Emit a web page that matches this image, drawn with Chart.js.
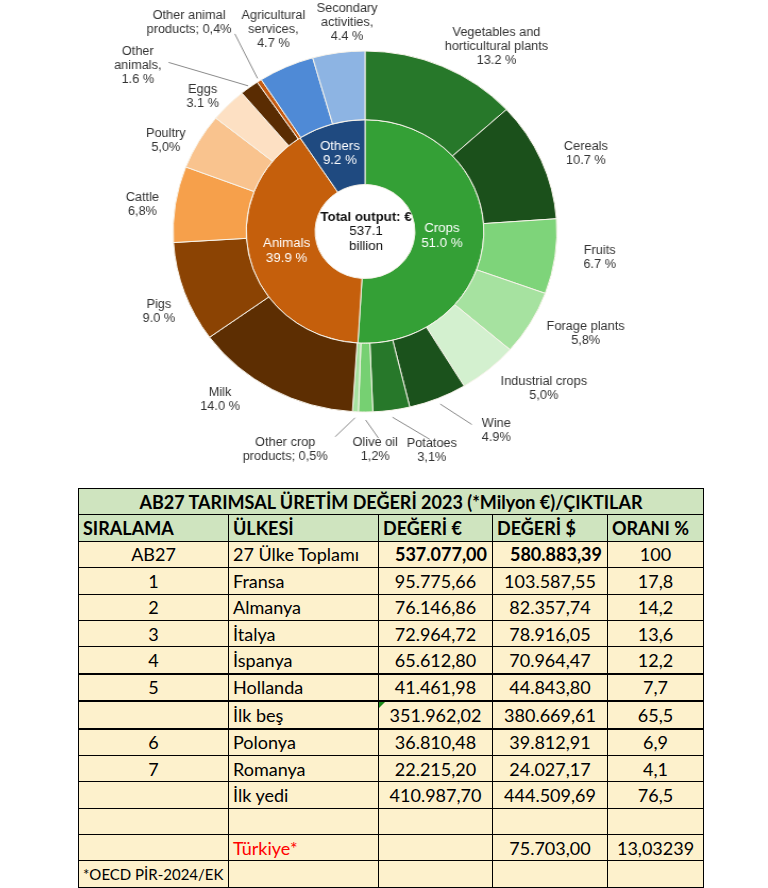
<!DOCTYPE html>
<html><head><meta charset="utf-8">
<script src="https://cdn.jsdelivr.net/npm/chart.js@4/dist/chart.umd.min.js"></script>
<style>
html,body{margin:0;padding:0;background:#fff;width:768px;height:888px;overflow:hidden;}
#wrap{position:absolute;left:0;top:0;width:768px;height:472px;transform:scaleX(1.063);transform-origin:365px 0;}
#tbl{position:absolute;left:78px;top:488px;border-collapse:collapse;table-layout:fixed;width:625px;font-family:Lato,"Open Sans",sans-serif;font-size:18px;color:#000;}
#tbl td{border:1px solid #000;padding:0 4px;height:25.4px;line-height:20px;white-space:nowrap;overflow:hidden;background:#fdf1cc;position:relative;}
#tbl tr.g td{background:#cfe4bf;font-weight:bold;}
#tbl td.c{text-align:center;}
#tbl td.l{text-align:left;}
#tbl td.b{font-weight:bold;text-align:right;padding-right:5px;}
#tbl tr.thick td{border-top:2px solid #000;}
#tbl td.red{color:#ff0000;}
#tbl td.foot{font-size:15px;}
.tri{position:absolute;left:0;top:0;width:0;height:0;border-top:6px solid #1a8a1a;border-right:6px solid transparent;}
</style></head>
<body>
<div id="wrap"><canvas id="c" width="768" height="472"></canvas></div>
<table id="tbl"><colgroup><col style="width:150px"><col style="width:150px"><col style="width:114px"><col style="width:115px"><col style="width:96px"></colgroup><tbody id="tb"></tbody></table>
<script>
// ---- Chart data ----
const groupLabels = ['Crops', 'Animals', 'Others'];
const groupValues = [51.0, 39.9, 9.2];
const groupTexts = ['Crops\n51.0 %', 'Animals\n39.9 %', 'Others\n9.2 %'];
const itemLabels = ['Vegetables and horticultural plants', 'Cereals', 'Fruits', 'Forage plants', 'Industrial crops', 'Wine', 'Potatoes', 'Olive oil', 'Other crop products', 'Milk', 'Pigs', 'Cattle', 'Poultry', 'Eggs', 'Other animals', 'Other animal products', 'Agricultural services', 'Secondary activities'];
const itemValues = [13.2, 10.7, 6.7, 5.8, 5.0, 4.9, 3.1, 1.2, 0.5, 14.0, 9.0, 6.8, 5.0, 3.1, 1.6, 0.4, 4.7, 4.4];
const itemTexts = ['Vegetables and\nhorticultural plants\n13.2 %', 'Cereals\n10.7 %', 'Fruits\n6.7 %', 'Forage plants\n5,8%', 'Industrial crops\n5,0%', 'Wine\n4.9%', 'Potatoes\n3,1%', 'Olive oil\n1,2%', 'Other crop\nproducts; 0,5%', 'Milk\n14.0 %', 'Pigs\n9.0 %', 'Cattle\n6,8%', 'Poultry\n5,0%', 'Eggs\n3.1 %', 'Other\nanimals,\n1.6 %', 'Other animal\nproducts; 0,4%', 'Agricultural\nservices,\n4.7 %', 'Secondary\nactivities,\n4.4 %'];
const centerTexts = ['Total output: €', '537.1', 'billion'];

// ---- Table data ----
const tableTitle = 'AB27 TARIMSAL ÜRETİM DEĞERİ 2023 (*Milyon €)/ÇIKTILAR';
const tableHeaders = ['SIRALAMA', 'ÜLKESİ', 'DEĞERİ €', 'DEĞERİ $', 'ORANI %'];
const rankCol = ['AB27', '1', '2', '3', '4', '5', '', '6', '7', '', '', ''];
const countryCol = ['27 Ülke Toplamı', 'Fransa', 'Almanya', 'İtalya', 'İspanya', 'Hollanda', 'İlk beş', 'Polonya', 'Romanya', 'İlk yedi', '', 'Türkiye*'];
const eurCol = ['537.077,00', '95.775,66', '76.146,86', '72.964,72', '65.612,80', '41.461,98', '351.962,02', '36.810,48', '22.215,20', '410.987,70', '', ''];
const usdCol = ['580.883,39', '103.587,55', '82.357,74', '78.916,05', '70.964,47', '44.843,80', '380.669,61', '39.812,91', '24.027,17', '444.509,69', '', '75.703,00'];
const shareCol = ['100', '17,8', '14,2', '13,6', '12,2', '7,7', '65,5', '6,9', '4,1', '76,5', '', '13,03239'];
const footNote = '*OECD PİR-2024/EK';

// ---- styles / layout (not data) ----
const groupColors = ['#34a036', '#c55f0c', '#1f4a80'];
const itemColors = ['#27782a', '#1b501b', '#7ed47a', '#a6e2a0', '#d3f0cf', '#1b521c', '#27782a', '#76d072', '#a6e2a0',
  '#5d2e02', '#8b4303', '#f6a04b', '#f9c38e', '#fde0c3', '#5a2c02', '#c55a11', '#4f8ad6', '#8db4e3'];
const labelOffsets = [[51,-20],[42,-6],[42,1],[52,11],[52,19],[55,32],[38,40],[9,38],[-66,38],[-49,10],[-24,19],[-31,1],[-31,-1],[-24,-8],[-105,-22],[-66,-58],[-12,-37],[8,-30]];
const leaders = {5:[6,-23,-6], 6:[7,-2,-11], 7:[8,3,-12], 8:[6,47,-13], 14:[2,29,-3], 15:[3,43,11]};
const innerOffsets = [[-7,2],[3,-1],[-1,-2]];

const labelPlugin = {
  id: 'lbls',
  afterDatasetsDraw(chart) {
    const c = chart.ctx;
    c.save();
    c.textAlign = 'center';
    c.textBaseline = 'middle';
    const outer = chart.getDatasetMeta(0).data;
    outer.forEach((arc, i) => {
      const a = (arc.startAngle + arc.endAngle) / 2;
      const px = arc.x + Math.cos(a) * arc.outerRadius, py = arc.y + Math.sin(a) * arc.outerRadius;
      const lx = px + labelOffsets[i][0], ly = py + labelOffsets[i][1];
      const lines = itemTexts[i].split('\n');
      c.font = '12px "Liberation Sans", Arial, sans-serif';
      c.fillStyle = '#333';
      lines.forEach((t, k) => c.fillText(t, lx, ly + (k - (lines.length - 1) / 2) * 14));
      const ld = leaders[i];
      if (ld) {
        c.strokeStyle = '#8a8a8a'; c.lineWidth = 1;
        c.beginPath();
        c.moveTo(arc.x + Math.cos(a) * (arc.outerRadius + ld[0]), arc.y + Math.sin(a) * (arc.outerRadius + ld[0]));
        c.lineTo(lx + ld[1], ly + ld[2]);
        c.stroke();
      }
    });
    const inner = chart.getDatasetMeta(1).data;
    inner.forEach((arc, i) => {
      const a = (arc.startAngle + arc.endAngle) / 2;
      const r = (arc.innerRadius + arc.outerRadius) / 2;
      const lx = arc.x + Math.cos(a) * r + innerOffsets[i][0], ly = arc.y + Math.sin(a) * r + innerOffsets[i][1];
      const lines = groupTexts[i].split('\n');
      c.font = '12.5px "Liberation Sans", Arial, sans-serif';
      c.fillStyle = '#fff';
      lines.forEach((t, k) => c.fillText(t, lx, ly + (k - (lines.length - 1) / 2) * 14.5));
    });
    const cx = inner[0].x, cy = inner[0].y;
    c.fillStyle = '#111';
    centerTexts.forEach((t, k) => {
      c.font = (k === 0 ? 'bold ' : '') + '12.5px "Liberation Sans", Arial, sans-serif';
      c.fillText(t, cx + 1, cy - 14 + k * 14.5);
    });
    c.restore();
  }
};

new Chart(document.getElementById('c'), {
  type: 'doughnut',
  data: {
    labels: itemLabels,
    datasets: [
      { label: 'Items', data: itemValues, backgroundColor: itemColors, borderColor: '#f7f3ea', borderWidth: 1, weight: 69 },
      { label: 'Groups', data: groupValues, backgroundColor: groupColors, borderColor: '#f7f3ea', borderWidth: 1, weight: 65 }
    ]
  },
  options: {
    responsive: false, animation: false, devicePixelRatio: 1, events: [],
    cutout: 47,
    layout: { padding: { top: 50, bottom: 59, left: 184, right: 222 } },
    plugins: { legend: { display: false }, tooltip: { enabled: false } }
  },
  plugins: [labelPlugin]
});

// ---- table ----
const tb = document.getElementById('tb');
function addRow(cells, cls) {
  const tr = document.createElement('tr');
  if (cls) tr.className = cls;
  cells.forEach(cd => {
    const td = document.createElement('td');
    td.textContent = cd.t;
    if (cd.cls) td.className = cd.cls;
    if (cd.span) td.colSpan = cd.span;
    if (cd.tri) { const s = document.createElement('span'); s.className = 'tri'; td.appendChild(s); }
    tr.appendChild(td);
  });
  tb.appendChild(tr);
}
addRow([{ t: tableTitle, cls: 'c', span: 5 }], 'g');
addRow(tableHeaders.map(h => ({ t: h, cls: 'l' })), 'g');
rankCol.forEach((r, i) => {
  const bold = i === 0;
  const thick = (i === 5 || i === 6 || i === 7) ? 'thick' : '';
  addRow([
    { t: r, cls: 'c' },
    { t: countryCol[i], cls: 'l' + (countryCol[i] === 'Türkiye*' ? ' red' : '') },
    { t: eurCol[i], cls: bold ? 'b' : 'c', tri: i === 6 },
    { t: usdCol[i], cls: bold ? 'b' : 'c' },
    { t: shareCol[i], cls: 'c' }
  ], thick);
});
addRow([{ t: footNote, cls: 'l foot' }, { t: '' }, { t: '' }, { t: '' }, { t: '' }]);
</script>
</body></html>
